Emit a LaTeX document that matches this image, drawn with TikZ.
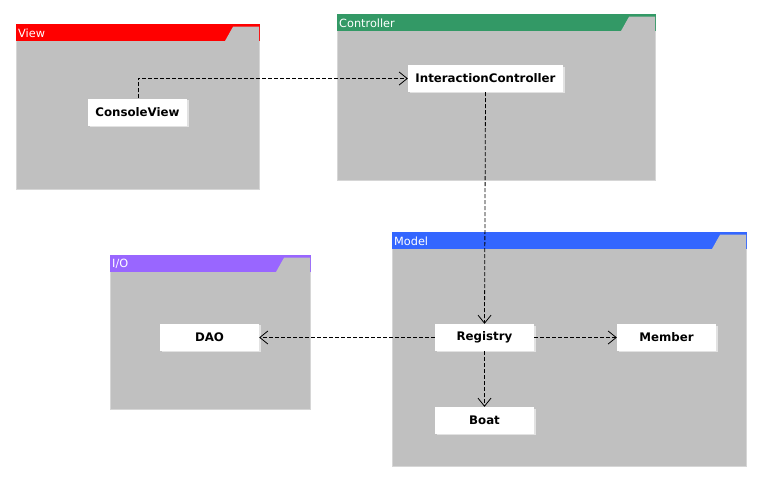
\documentclass[tikz,border=0pt]{standalone}
\usepackage{fontspec}
\setmainfont{DejaVu Sans}
\usetikzlibrary{arrows.meta}

\definecolor{pkgbody}{HTML}{C0C0C0}
\definecolor{pkgedge}{HTML}{D6D6D6}
\definecolor{viewcol}{HTML}{FF0000}
\definecolor{ctrlcol}{HTML}{339966}
\definecolor{modelcol}{HTML}{3366FF}
\definecolor{iocol}{HTML}{9966FF}
\definecolor{boxshadow}{HTML}{E2E2E2}

\tikzset{
  classbox/.style={fill=white, minimum height=27pt, minimum width=99pt,
    inner sep=0pt, font=\fontsize{11.8}{13}\selectfont\bfseries},
  pkglabel/.style={anchor=west, inner sep=0pt, text=white,
    font=\fontsize{11.3}{12}\selectfont},
  dep/.style={draw=black, line width=0.8pt, dash pattern=on 4pt off 2pt,
    -{Straight Barb[length=8pt,width=13pt,line width=0.8pt]}},
}

% UML package: corners (x1,y1)-(x2,y2), header colour, name, label node name
\newcommand\umlpackage[7]{%
  \fill[pkgbody] (#1,#2) rectangle (#3,#4);
  \draw[pkgedge, line width=1pt] (#1+0.5,#2) -- (#1+0.5,#4-0.5) -- (#3-0.5,#4-0.5) -- (#3-0.5,#2);
  \fill[#5] (#1,#2) rectangle (#3,#2+17);
  \fill[pkgbody] (#3-35,#2+17) -- (#3-28,#2+4.5)
    .. controls (#3-27,#2+2.5) .. (#3-25,#2+2.5) -- (#3-1,#2+2.5) -- (#3-1,#2+17) -- cycle;
  \node[pkglabel] (#7) at (#1+2,#2+8.8) {#6};
}

\begin{document}
\begin{tikzpicture}[x=1pt,y=-1pt]
  \useasboundingbox[fill=white] (0,0) rectangle (763,483);

  % packages
  \umlpackage{16}{24}{260}{190}{viewcol}{View}{viewlbl}
  \umlpackage{337}{14}{656}{181}{ctrlcol}{Controller}{ctrllbl}
  \umlpackage{392}{232}{747}{467}{modelcol}{Model}{modellbl}
  \umlpackage{110}{255}{311}{410}{iocol}{I/O}{iolbl}

  % classes, each with a faint drop shadow
  \foreach \cx/\cy/\w in {137.5/112/99, 485.5/78.5/155, 209.5/337/99,
                          484.5/337.5/99, 666.5/337.5/99, 484.5/420.5/99}
    \fill[boxshadow] (\cx-\w/2+1.5,\cy-12) rectangle (\cx+\w/2+1.5,\cy+14.5);

  \node[classbox] (cv)   at (137.5,112)   {ConsoleView};
  \node[classbox, minimum width=155pt] (ic) at (485.5,78.5) {InteractionController};
  \node[classbox] (dao)  at (209.5,337)   {DAO};
  \node[classbox] (reg)  at (484.5,337.5) {Registry};
  \node[classbox] (mem)  at (666.5,337.5) {Member};
  \node[classbox] (boat) at (484.5,420.5) {Boat};

  % dependencies
  \draw[dep] ([xshift=0.5pt]cv.north) |- (ic.west);
  \draw[dep] (ic.south) -- (reg.north);
  \draw[dep] (reg.west) -- (reg.west -| dao.east);
  \draw[dep] (reg.east) -- (mem.west);
  \draw[dep] (reg.south) -- (boat.north);
\end{tikzpicture}
\end{document}
